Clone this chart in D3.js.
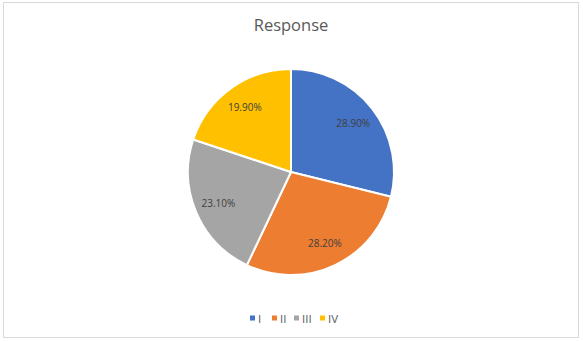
<!DOCTYPE html>
<html><head><meta charset="utf-8">
<script src="https://cdn.jsdelivr.net/npm/d3@7"></script>
<style>body{margin:0;background:#fff;}svg{display:block;}</style>
</head><body>
<svg id="chart" width="583" height="341"></svg>
<script>
const categories = ["I", "II", "III", "IV"];
const values = [28.9, 28.2, 23.1, 19.9];
const labels = ["28.90%", "28.20%", "23.10%", "19.90%"];
const colors = ["#4472C4", "#ED7D31", "#A5A5A5", "#FFC000"];
const title = "Response";

const svg = d3.select("#chart");
const W = 583, H = 341;
const font = "'Open Sans', 'Liberation Sans', sans-serif";

svg.append("rect").attr("x", 3.5).attr("y", 2.5).attr("width", 575).attr("height", 335)
  .attr("fill", "#fff").attr("stroke", "#d9d9d9").attr("stroke-width", 1);

svg.append("text").attr("x", 291).attr("y", 31).attr("text-anchor", "middle")
  .attr("font-family", font).attr("font-size", 16.5).attr("fill", "#595959").text(title);

const cx = 291, cy = 172, R = 103;
const data = categories.map((c, i) => ({c, v: values[i], label: labels[i], color: colors[i]}));
const pie = d3.pie().value(d => d.v).sort(null);
const arcs = pie(data);
const arc = d3.arc().innerRadius(0).outerRadius(R);
const labelArc = d3.arc().innerRadius(79).outerRadius(79);

const g = svg.append("g").attr("transform", `translate(${cx},${cy})`);
g.selectAll("path").data(arcs).join("path")
  .attr("d", arc).attr("fill", d => d.data.color)
  .attr("stroke", "#fff").attr("stroke-width", 2).attr("stroke-linejoin", "round");

g.selectAll("text").data(arcs).join("text")
  .attr("transform", d => `translate(${labelArc.centroid(d)})`)
  .attr("text-anchor", "middle").attr("dy", "0.35em")
  .attr("font-family", font).attr("font-size", 10).attr("fill", "#404040")
  .text(d => d.data.label);

const legendX = [250, 272, 294, 320];
const lg = svg.append("g");
categories.forEach((c, i) => {
  lg.append("rect").attr("x", legendX[i]).attr("y", 315.5).attr("width", 5).attr("height", 5).attr("fill", colors[i]);
  lg.append("text").attr("x", legendX[i] + 8).attr("y", 322.5)
    .attr("font-family", font).attr("font-size", 11.5).attr("fill", "#595959").text(c);
});
</script>
</body></html>
